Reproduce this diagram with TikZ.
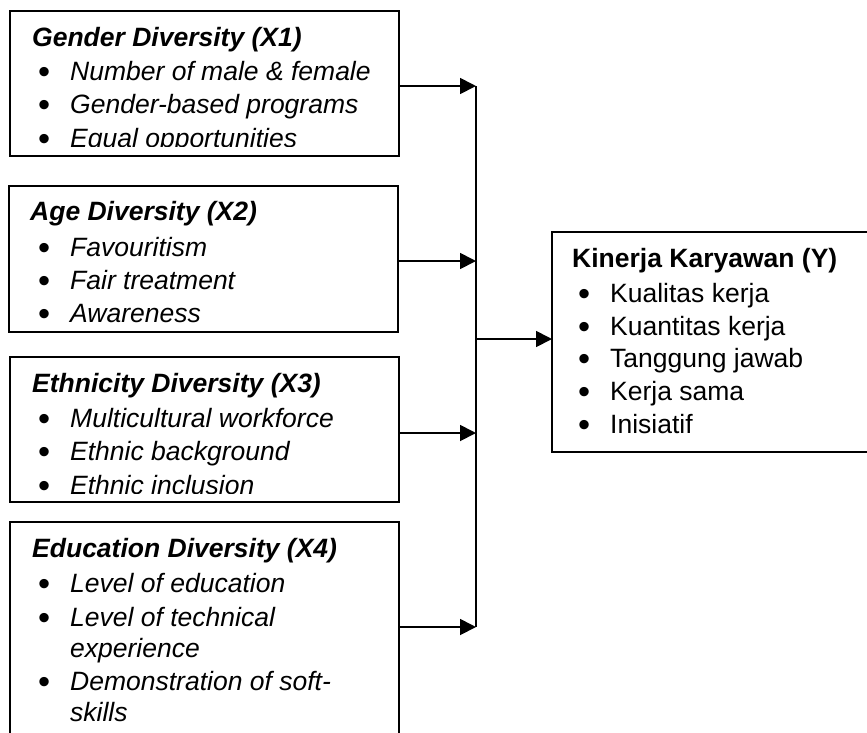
\documentclass[tikz,border=0pt]{standalone}
\usepackage{fontspec}
\setmainfont{Liberation Sans}
\usepackage{tikz}
\usetikzlibrary{arrows.meta}

\newcommand{\diagfont}{\fontsize{26.5}{32}\selectfont}
\newcommand{\bul}{\makebox[32pt][l]{\raisebox{-3pt}{\scalebox{1.3}{\textbullet}}}}

\begin{document}
\begin{tikzpicture}[x=1pt, y=-1pt,
  box/.style={draw, line width=1.1pt, anchor=north west, inner sep=0pt, outer sep=0pt},
  head/.style={anchor=base west, inner sep=0pt, font=\diagfont\bfseries},
  itm/.style={anchor=base west, inner sep=0pt, font=\diagfont},
  link/.style={line width=1.8pt, -{Triangle[length=16pt, width=16pt]}},
  bus/.style={line width=1.8pt}]
\clip (0,0) rectangle (867,732);

% variabel bebas (X) dan terikat (Y)
\node [box, minimum width=389pt, minimum height=145pt] (x1) at (10,11) {};
\node [box, minimum width=389pt, minimum height=146pt] (x2) at (9,186) {};
\node [box, minimum width=389pt, minimum height=145pt] (x3) at (10,357) {};
\node [box, minimum width=389pt, minimum height=260pt] (x4) at (10,522) {};
\node [box, minimum width=360pt, minimum height=220pt] (y) at (552,232) {};

\begin{scope}
\clip (10,11) rectangle (399,146);
\node [head] (x1h) at (32,46) {\itshape Gender Diversity (X1)};
\node [itm] (x1a) at (38,80) {\bul\textit{Number of male \& female}};
\node [itm] (x1b) at (38,113) {\bul\textit{Gender-based programs}};
\node [itm] (x1c) at (38,147) {\bul\textit{Equal opportunities}};
\end{scope}

\begin{scope}
\clip (9,186) rectangle (398,323);
\node [head] (x2h) at (30,220) {\itshape Age Diversity (X2)};
\node [itm] (x2a) at (38,256) {\bul\textit{Favouritism}};
\node [itm] (x2b) at (38,289) {\bul\textit{Fair treatment}};
\node [itm] (x2c) at (38,322) {\bul\textit{Awareness}};
\end{scope}

\begin{scope}
\clip (10,357) rectangle (399,493);
\node [head] (x3h) at (32,392) {\itshape Ethnicity Diversity (X3)};
\node [itm] (x3a) at (38,427) {\bul\textit{Multicultural workforce}};
\node [itm] (x3b) at (38,460) {\bul\textit{Ethnic background}};
\node [itm] (x3c) at (38,494) {\bul\textit{Ethnic inclusion}};
\end{scope}

\node [head] (x4h) at (32,557) {\itshape Education Diversity (X4)};
\node [itm] (x4a) at (38,592) {\bul\textit{Level of education}};
\node [itm] (x4b) at (38,626) {\bul\textit{Level of technical}};
\node [itm] (x4c) at (70,657) {\textit{experience}};
\node [itm] (x4d) at (38,690) {\bul\textit{Demonstration of soft-}};
\node [itm] (x4e) at (70,721) {\textit{skills}};

\node [head] (yh) at (572,267) {Kinerja Karyawan (Y)};
\node [itm] (ya) at (578,302) {\bul Kualitas kerja};
\node [itm] (yb) at (578,335) {\bul Kuantitas kerja};
\node [itm] (yc) at (578,367) {\bul Tanggung jawab};
\node [itm] (yd) at (578,400) {\bul Kerja sama};
\node [itm] (ye) at (578,433) {\bul Inisiatif};

% panah
\coordinate (j1) at (476,86);
\coordinate (j2) at (476,261);
\coordinate (j3) at (476,433);
\coordinate (j4) at (476,627);
\coordinate (jm) at (476,339);
\draw [link] (x1.east |- j1) -- (j1);
\draw [link] (x2.east |- j2) -- (j2);
\draw [link] (x3.east |- j3) -- (j3);
\draw [link] (x4.east |- j4) -- (j4);
\draw [bus] (j1) -- (j4);
\draw [link] (jm) -- (y.west |- jm);
\end{tikzpicture}
\end{document}
